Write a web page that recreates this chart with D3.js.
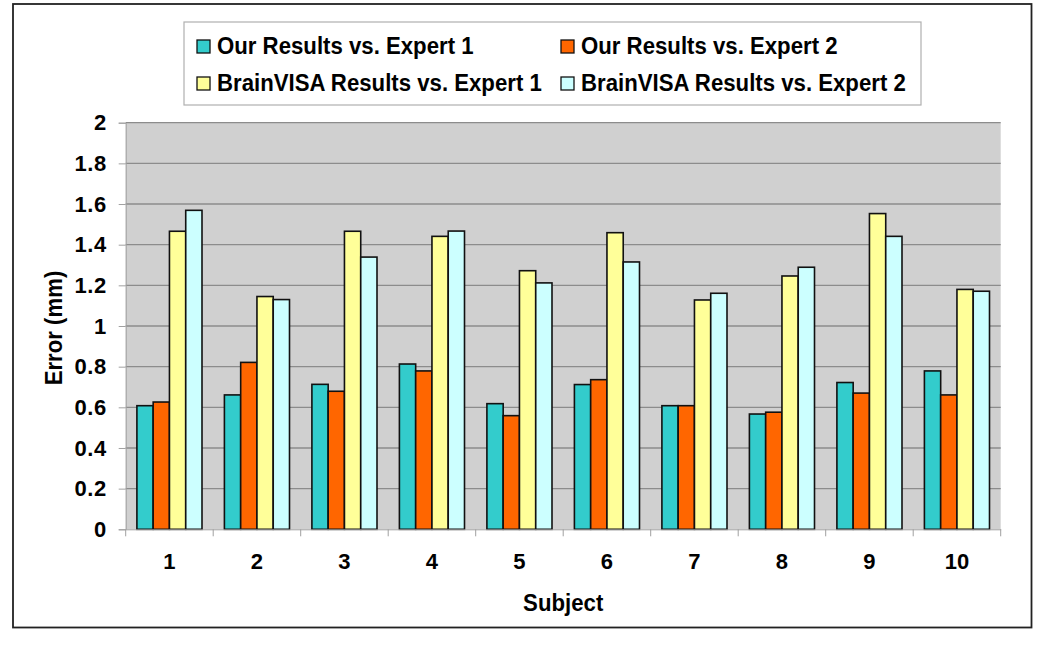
<!DOCTYPE html>
<html>
<head>
<meta charset="utf-8">
<script src="https://cdn.jsdelivr.net/npm/d3@7"></script>
<style>
  body { margin: 0; background: #fff; }
  text { font-family: "Liberation Sans", Arial, sans-serif; font-weight: bold; }
</style>
</head>
<body>
<div id="chart"></div>
<script>
const subjects = ["1", "2", "3", "4", "5", "6", "7", "8", "9", "10"];
const seriesNames = ["Our Results vs. Expert 1", "Our Results vs. Expert 2",
  "BrainVISA Results vs. Expert 1", "BrainVISA Results vs. Expert 2"];
const ourExp1 = [0.608, 0.661, 0.713, 0.813, 0.618, 0.712, 0.608, 0.567, 0.722, 0.779];
const ourExp2 = [0.626, 0.821, 0.679, 0.779, 0.559, 0.736, 0.608, 0.576, 0.670, 0.661];
const bvExp1 = [1.466, 1.145, 1.466, 1.441, 1.272, 1.459, 1.128, 1.246, 1.553, 1.180];
const bvExp2 = [1.569, 1.130, 1.339, 1.467, 1.212, 1.315, 1.161, 1.289, 1.441, 1.171];
const yTicks = [0, 0.2, 0.4, 0.6, 0.8, 1, 1.2, 1.4, 1.6, 1.8, 2];
const colors = ["#33CCCC", "#FF6600", "#FFFF99", "#CCFFFF"];

const allSeries = [ourExp1, ourExp2, bvExp1, bvExp2];
const squeeze = 0.925;

const svg = d3.select("#chart")
    .append("svg")
    .attr("width", 1050)
    .attr("height", 646);

// outer frame
svg.append("rect").attr("x", 13).attr("y", 4).attr("width", 1018.5).attr("height", 623.5)
    .attr("fill", "white").attr("stroke", "#222").attr("stroke-width", 1.8);

const plot = { left: 125.7, right: 1000.7, top: 122.7, bottom: 529.3 };

const x = d3.scaleBand().domain(subjects).range([plot.left, plot.right]);
const xInner = d3.scaleBand().domain(d3.range(4)).range([11.2, x.bandwidth() - 11.2]);
const y = d3.scaleLinear().domain([0, 2]).range([plot.bottom, plot.top]);

// plot background
svg.append("rect").attr("x", plot.left).attr("y", plot.top)
    .attr("width", plot.right - plot.left).attr("height", plot.bottom - plot.top)
    .attr("fill", "#D0D0D0");

// gridlines
svg.append("g").selectAll("line")
    .data(yTicks.filter(d => d > 0))
    .join("line")
    .attr("x1", plot.left).attr("x2", plot.right)
    .attr("y1", d => y(d)).attr("y2", d => y(d))
    .attr("stroke", "#8c8c8c").attr("stroke-width", 1.3);

// bars
const groups = svg.append("g").selectAll("g")
    .data(subjects)
    .join("g")
    .attr("transform", d => "translate(" + x(d) + ",0)");

groups.selectAll("rect")
    .data((d, i) => allSeries.map((s, k) => ({ k: k, v: s[i] })))
    .join("rect")
    .attr("x", d => xInner(d.k))
    .attr("width", xInner.bandwidth())
    .attr("y", d => y(d.v))
    .attr("height", d => y(0) - y(d.v))
    .attr("fill", d => colors[d.k])
    .attr("stroke", "#111")
    .attr("stroke-width", 1.6);

// y axis
const yAxis = svg.append("g")
    .attr("transform", "translate(" + plot.left + ",0)")
    .call(d3.axisLeft(y).tickValues(yTicks).tickSize(7).tickPadding(12).tickFormat(d => d3.format("")(d)));
yAxis.select(".domain").attr("stroke", "#a0a0a0");
yAxis.selectAll(".tick line").attr("stroke", "#a0a0a0");
yAxis.selectAll("text").style("font-size", "22px").attr("fill", "#000")
    .style("letter-spacing", "0.5px")
    .style("font-family", "'Liberation Sans', Arial, sans-serif").style("font-weight", "bold");

// x axis
const xAxis = svg.append("g")
    .attr("transform", "translate(0," + plot.bottom + ")")
    .call(d3.axisBottom(x).tickSize(0).tickPadding(24));
xAxis.select(".domain").attr("stroke", "#a0a0a0");
xAxis.selectAll("text").style("font-size", "22px").attr("fill", "#000")
    .style("font-family", "'Liberation Sans', Arial, sans-serif").style("font-weight", "bold");
// category separators
svg.append("g").selectAll("line")
    .data(subjects.concat(["end"]))
    .join("line")
    .attr("x1", (d, i) => plot.left + i * x.bandwidth())
    .attr("x2", (d, i) => plot.left + i * x.bandwidth())
    .attr("y1", plot.bottom).attr("y2", plot.bottom + 7)
    .attr("stroke", "#a0a0a0");

// axis titles
svg.append("text")
    .attr("transform", "translate(62," + ((plot.top + plot.bottom) / 2 + 2) + ") rotate(-90) scale(" + squeeze + ",1)")
    .attr("text-anchor", "middle")
    .style("font-size", "24px")
    .text("Error (mm)");

svg.append("text")
    .attr("transform", "translate(" + ((plot.left + plot.right) / 2) + ",611) scale(" + squeeze + ",1)")
    .attr("text-anchor", "middle")
    .style("font-size", "24px")
    .text("Subject");

// legend
const legend = svg.append("g");
legend.append("rect").attr("x", 184).attr("y", 22).attr("width", 737).attr("height", 83)
    .attr("fill", "white").attr("stroke", "#b0b0b0").attr("stroke-width", 1.2);

const legendPos = [[197, 54], [561, 54], [197, 91], [561, 91]];
seriesNames.forEach(function (name, i) {
    legend.append("rect")
        .attr("x", legendPos[i][0]).attr("y", legendPos[i][1] - 14)
        .attr("width", 13).attr("height", 13)
        .attr("fill", colors[i]).attr("stroke", "#111").attr("stroke-width", 1.3);
    legend.append("text")
        .attr("transform", "translate(" + (legendPos[i][0] + 20) + "," + legendPos[i][1] + ") scale(" + squeeze + ",1)")
        .style("font-size", "24px")
        .text(name);
});
</script>
</body>
</html>
